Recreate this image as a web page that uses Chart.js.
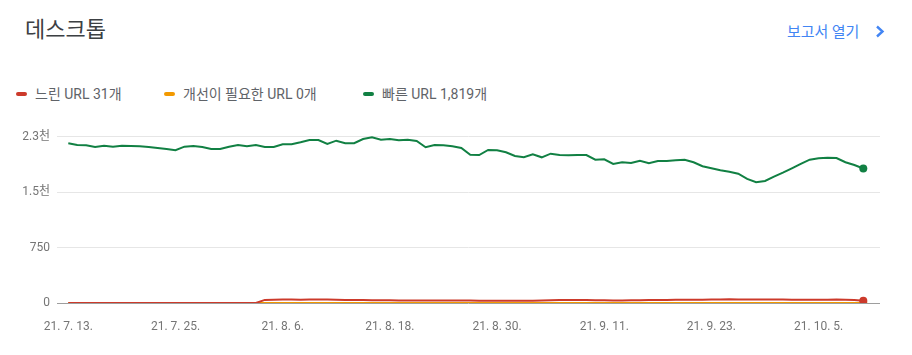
<!DOCTYPE html>
<html><head><meta charset="utf-8">
<script src="https://cdn.jsdelivr.net/npm/chart.js@4"></script>
<style>
html,body{margin:0;padding:0;background:#fff;}
body{width:912px;height:355px;position:relative;overflow:hidden;font-family:Roboto,"Noto Sans CJK KR",sans-serif;}
#title{position:absolute;left:25px;top:11px;font-size:22px;line-height:32px;color:#3c4043;font-family:"Noto Sans CJK KR",sans-serif;}
#link{position:absolute;left:787px;top:19px;font-size:15px;line-height:24px;color:#4285f4;font-family:"Noto Sans CJK KR",sans-serif;}
#chev{position:absolute;left:874px;top:25px;}
.leg{position:absolute;top:84px;height:20px;line-height:20px;font-size:14px;color:#5f6368;white-space:nowrap;}
.leg i{position:absolute;left:0;top:8px;width:11px;height:4px;border-radius:2px;}
.leg span{position:absolute;left:19px;top:0;}
canvas{position:absolute;left:0;top:0;}
</style></head>
<body>
<div id="title">데스크톱</div>
<div id="link">보고서 열기</div>
<svg id="chev" width="12" height="13" viewBox="0 0 12 13"><path d="M3 1.5 L8.5 6.5 L3 11.5" fill="none" stroke="#4285f4" stroke-width="2.4"/></svg>
<div class="leg" style="left:16px"><i style="background:#cc3a2b"></i><span>느린 URL 31개</span></div>
<div class="leg" style="left:164px"><i style="background:#f29900"></i><span>개선이 필요한 URL 0개</span></div>
<div class="leg" style="left:363px"><i style="background:#118043"></i><span>빠른 URL 1,819개</span></div>
<canvas id="c" width="912" height="355"></canvas>
<script>
// x tick positions (day index) and labels
const tickIndex = [0, 12, 24, 36, 48, 60, 72, 84];
const tickLabels = ['21. 7. 13.', '21. 7. 25.', '21. 8. 6.', '21. 8. 18.', '21. 8. 30.', '21. 9. 11.', '21. 9. 23.', '21. 10. 5.'];
// y ticks
const yTicks = [0, 750, 1500, 2250];
const yTickLabels = ['0', '750', '1.5천', '2.3천'];

// series: one value per day, 21.7.13 .. 21.10.10
const slowUrls = [0,0,0,0,0,0,0,0,0,0,0,0,0,0,0,0,0,0,0,0,0,0,
  42,45,46,46,45,46,47,46,45,42,41,40,38,37,36,35,35,34,34,34,33,33,33,33,
  32,32,31,31,30,30,31,33,36,39,41,40,39,38,36,35,35,36,37,39,40,42,43,44,
  45,45,46,48,50,49,48,47,47,46,46,45,45,44,43,45,46,44,40,31];
const needsImprovement = [0,0,0,0,0,0,0,0,0,0,0,0,0,0,0,0,0,0,0,0,0,0,0,0,0,0,0,0,0,0,
  0,0,0,0,0,0,0,0,0,0,0,0,0,0,0,0,0,0,0,0,0,0,0,0,0,0,0,0,0,0,
  0,0,0,0,0,0,0,0,0,0,0,0,0,0,0,0,0,0,0,0,0,0,0,0,0,0,0,0,0,0];
const fastUrls = [2161,2138,2134,2111,2128,2115,2128,2124,2120,2111,2097,2084,2066,2115,2124,2111,2084,2084,2115,2138,
  2120,2138,2111,2111,2147,2147,2174,2205,2205,2151,2196,2161,2161,2219,2242,2209,2219,2201,2209,2192,
  2107,2138,2134,2120,2097,2006,2002,2070,2066,2039,1989,1971,2012,1971,2020,2002,1998,2002,2002,1939,
  1944,1881,1904,1894,1925,1890,1921,1921,1931,1939,1904,1850,1822,1795,1776,1749,1678,1633,1651,1709,
  1763,1822,1881,1939,1958,1966,1962,1904,1867,1819];

const toXY = arr => arr.map((v, i) => ({x: i, y: v}));
const lastDot = ctx => (ctx.dataIndex === ctx.dataset.data.length - 1 ? 4 : 0);
const ds = (label, arr, color) => ({
  label, data: toXY(arr), borderColor: color, backgroundColor: color,
  borderWidth: 2, tension: 0, pointRadius: lastDot, pointHoverRadius: 0,
  pointBorderWidth: 0, fill: false
});

new Chart(document.getElementById('c'), {
  type: 'line',
  data: { datasets: [
    ds('느린 URL', slowUrls, '#cc3a2b'),
    ds('개선이 필요한 URL', needsImprovement, '#f29900'),
    ds('빠른 URL', fastUrls, '#118043')
  ]},
  options: {
    responsive: false, animation: false,
    layout: { padding: { top: 125.6, right: 32, left: 0, bottom: 0 } },
    plugins: { legend: { display: false }, tooltip: { enabled: false } },
    events: [],
    scales: {
      x: {
        type: 'linear', min: -1.265, max: 90.87,
        grid: { display: false }, border: { display: false },
        afterBuildTicks: s => { s.ticks = tickIndex.map(v => ({ value: v })); },
        afterFit: s => { s.height = 52; },
        ticks: {
          autoSkip: false, maxRotation: 0, padding: 9,
          color: '#757575', font: { family: 'Roboto', size: 12 },
          callback: v => tickLabels[tickIndex.indexOf(v)]
        }
      },
      y: {
        min: 0, max: 2400,
        border: { display: false },
        grid: { drawTicks: false, lineWidth: 1,
          color: c => (c.tick && c.tick.value === 0 ? '#9e9e9e' : '#e6e6e6') },
        afterBuildTicks: s => { s.ticks = yTicks.map(v => ({ value: v })); },
        afterFit: s => { s.width = 57; },
        ticks: {
          padding: 7, color: '#757575',
          font: { family: 'Roboto, "Noto Sans CJK KR"', size: 12 },
          callback: v => yTickLabels[yTicks.indexOf(v)]
        }
      }
    }
  }
});
</script>
</body></html>
